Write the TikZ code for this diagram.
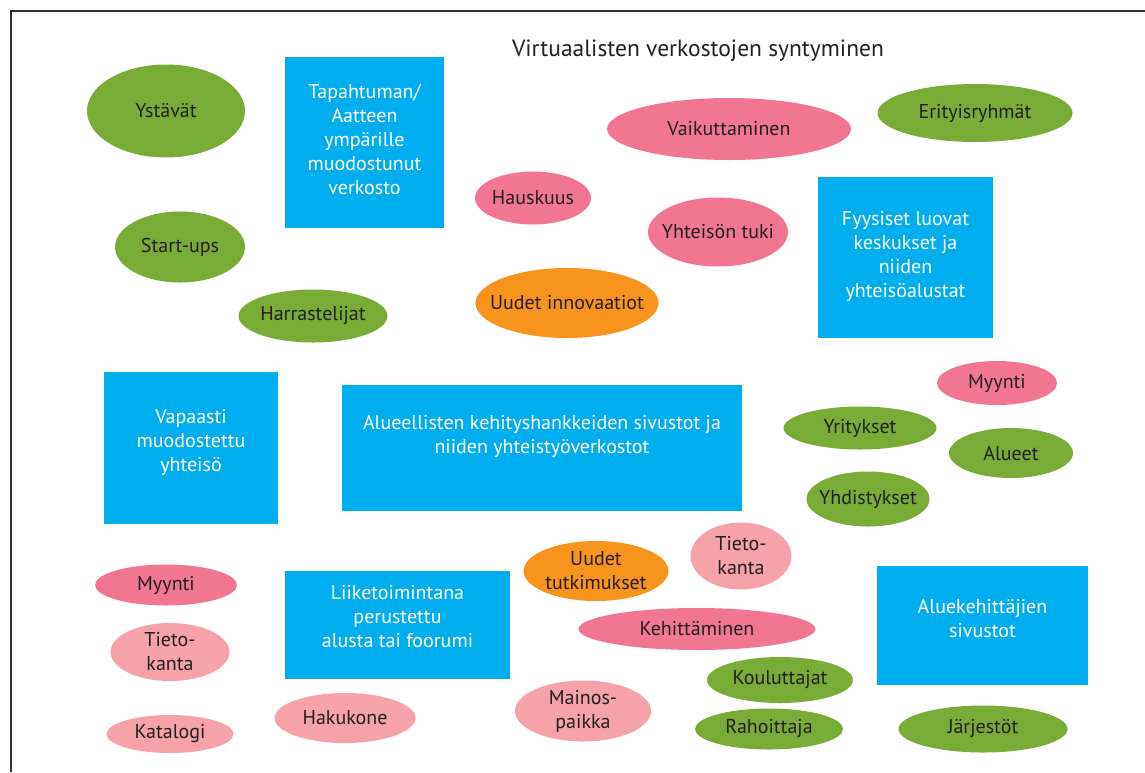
\documentclass[tikz,border=0pt]{standalone}
\usepackage{fontspec}
\setmainfont{PT Sans}
\usetikzlibrary{shapes.geometric}
\definecolor{vihrea}{RGB}{120,172,55}
\definecolor{sininen}{RGB}{0,174,239}
\definecolor{tumma}{RGB}{240,118,146}
\definecolor{vaalea}{RGB}{245,162,168}
\definecolor{oranssi}{RGB}{247,148,30}
\definecolor{teksti}{RGB}{35,31,32}
\definecolor{kehys}{RGB}{51,51,51}

\begin{document}
\begin{tikzpicture}[x=1pt,y=-1pt,
    oval/.style={ellipse,fill=#1,inner xsep=-45pt,inner ysep=-15pt,align=center,text=teksti},
    laatikko/.style={rectangle,fill=sininen,inner sep=0pt},
    laatikkoteksti/.style={align=center,text=white,inner sep=0pt}]
    \useasboundingbox (0,0) rectangle (1145,772);
    \draw[line width=2pt,kehys] (11,772) -- (11,11) -- (1145,11);

    \begin{scope}[font=\fontsize{20}{24}\selectfont]
    \node[text=teksti,font=\fontsize{23.5}{28}\selectfont] (otsikko) at (698,51) {Virtuaalisten verkostojen syntyminen};

    \node[laatikko,minimum width=159pt,minimum height=171pt] (tapahtuma) at (364.5,142.5) {};
    \node[laatikkoteksti] (tapahtuma-txt) at (364.5,139) {Tapahtuman/\\Aatteen\\ympärille\\muodostunut\\verkosto};
    \node[laatikko,minimum width=175pt,minimum height=161pt] (fyysiset) at (905.5,257.5) {};
    \node[laatikkoteksti] (fyysiset-txt) at (905.5,256) {Fyysiset luovat\\keskukset ja\\niiden\\yhteisöalustat};
    \node[laatikko,minimum width=174pt,minimum height=152pt] (vapaasti) at (191,448) {};
    \node[laatikkoteksti] (vapaasti-txt) at (191,442) {Vapaasti\\muodostettu\\yhteisö};
    \node[laatikko,minimum width=400pt,minimum height=126pt] (alueelliset) at (542,448) {};
    \node[laatikkoteksti] (alueelliset-txt) at (542,436) {Alueellisten kehityshankkeiden sivustot ja\\niiden yhteistyöverkostot};
    \node[laatikko,minimum width=225pt,minimum height=108pt] (liiketoiminta) at (397.5,625) {};
    \node[laatikkoteksti] (liiketoiminta-txt) at (397.5,617) {Liiketoimintana\\perustettu\\alusta tai foorumi};
    \node[laatikko,minimum width=211pt,minimum height=119pt] (aluekehittajat) at (982.5,625.5) {};
    \node[laatikkoteksti] (aluekehittajat-txt) at (982.5,618) {Aluekehittäjien\\sivustot};

    \node[oval=vihrea,minimum width=158pt,minimum height=93pt] (ystavat) at (166,111) {Ystävät};
    \node[oval=vihrea,minimum width=130pt,minimum height=71pt] (startups) at (180,247) {Start-ups};
    \node[oval=vihrea,minimum width=149pt,minimum height=53pt] (harrastelijat) at (313,316) {Harrastelijat};
    \node[oval=tumma,minimum width=244pt,minimum height=62pt] (vaikuttaminen) at (729,129) {Vaikuttaminen};
    \node[oval=vihrea,minimum width=195pt,minimum height=58pt] (erityisryhmat) at (975,113) {Erityisryhmät};
    \node[oval=tumma,minimum width=116pt,minimum height=53pt] (hauskuus) at (533,198) {Hauskuus};
    \node[oval=tumma,minimum width=140pt,minimum height=69pt] (tuki) at (718,232) {Yhteisön tuki};
    \node[oval=oranssi,minimum width=183pt,minimum height=70pt] (innovaatiot) at (567,303) {Uudet innovaatiot};

    \node[oval=tumma,minimum width=120pt,minimum height=44pt] (myynti-o) at (997,383) {Myynti};
    \node[oval=vihrea,minimum width=153pt,minimum height=43pt] (yritykset) at (860,428) {Yritykset};
    \node[oval=vihrea,minimum width=124pt,minimum height=50pt] (alueet) at (1011,453) {Alueet};
    \node[oval=vihrea,minimum width=123pt,minimum height=55pt] (yhdistykset) at (868,499) {Yhdistykset};

    \node[oval=vaalea,minimum width=101pt,minimum height=67pt] (tietokanta-o) at (741,556) {Tieto-\\kanta};
    \node[oval=oranssi,minimum width=145pt,minimum height=60pt] (tutkimukset) at (596,571) {Uudet\\tutkimukset};
    \node[oval=tumma,minimum width=237pt,minimum height=42pt] (kehittaminen) at (697,629) {Kehittäminen};
    \node[oval=vihrea,minimum width=146pt,minimum height=46pt] (kouluttajat) at (780,680) {Kouluttajat};
    \node[oval=vihrea,minimum width=148pt,minimum height=41pt] (rahoittaja) at (769,729) {Rahoittaja};
    \node[oval=vaalea,minimum width=136pt,minimum height=61pt] (mainospaikka) at (583,711) {Mainos-\\paikka};
    \node[oval=vihrea,minimum width=169pt,minimum height=47pt] (jarjestot) at (983,729) {Järjestöt};

    \node[oval=tumma,minimum width=142pt,minimum height=41pt] (myynti-v) at (166,585) {Myynti};
    \node[oval=vaalea,minimum width=119pt,minimum height=58pt] (tietokanta-v) at (170,652) {Tieto-\\kanta};
    \node[oval=vaalea,minimum width=127pt,minimum height=38pt] (katalogi) at (170,734) {Katalogi};
    \node[oval=vaalea,minimum width=141pt,minimum height=50pt] (hakukone) at (345,718) {Hakukone};
    \end{scope}
\end{tikzpicture}
\end{document}
